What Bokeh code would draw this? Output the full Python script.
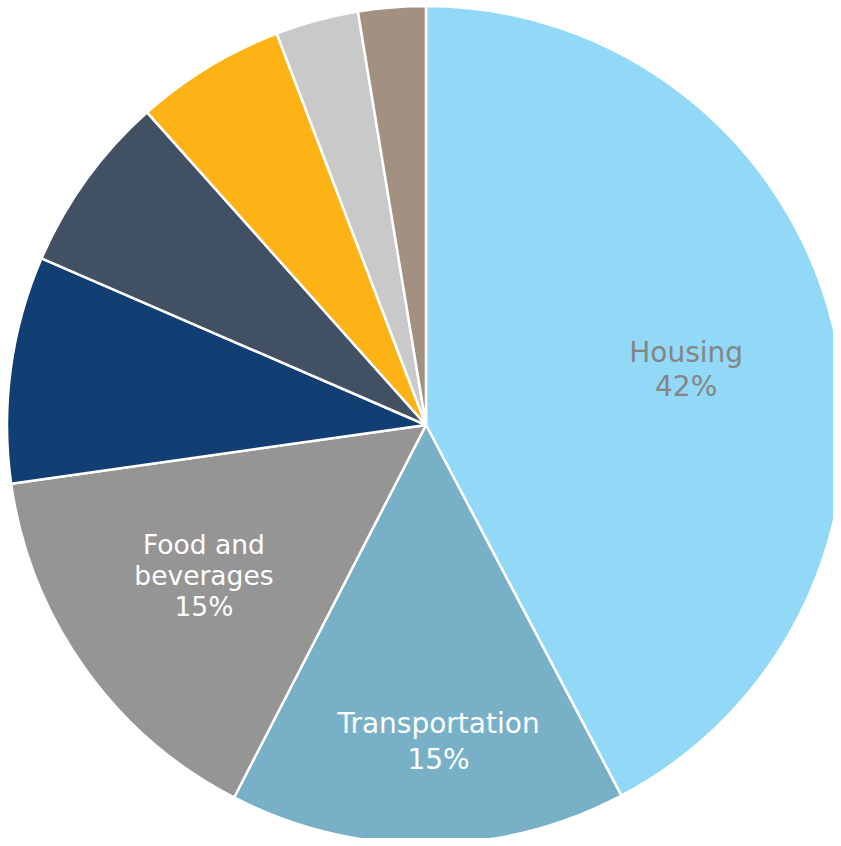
import math
from bokeh.plotting import figure
from bokeh.models import Range1d, ColumnDataSource
from bokeh.core.properties import value
from bokeh.embed import file_html
from bokeh.resources import INLINE

categories = ["Housing", "Transportation", "Food and beverages", "Medical care",
              "Education and communication", "Recreation", "Other goods and services", "Apparel"]
shares = [42.3, 15.3, 15.2, 8.75, 6.9, 5.8, 3.2, 2.6]
colors = ["#92D9F7", "#78B1C7", "#959595", "#123F73", "#415163", "#FDB316", "#C8C9C8", "#A29181"]

label_lines = {"Housing": ["Housing", "42%"],
               "Transportation": ["Transportation", "15%"],
               "Food and beverages": ["Food and", "beverages", "15%"]}
label_colors = {"Housing": "#858585", "Transportation": "white", "Food and beverages": "white"}
# label placement: radius fraction and clockwise angle adjustment (deg)
label_radius = {"Housing": 0.635, "Transportation": 0.756, "Food and beverages": 0.64}
label_dang = {"Housing": 1.8, "Transportation": -2.0, "Food and beverages": 1.3}
label_size = {"Housing": 28, "Transportation": 28, "Food and beverages": 26.5}
label_gap = {"Housing": 34, "Transportation": 36, "Food and beverages": 31}

W, H = 833, 838
p = figure(width=W, height=H, output_backend="svg", toolbar_location=None,
           x_range=Range1d(0, W), y_range=Range1d(0, H), min_border=0)
p.axis.visible = False
p.grid.visible = False
p.outline_line_color = None
p.background_fill_color = "white"

cx, cy, R = 425.5, H - 424.5, 419
total = sum(shares)
starts, ends = [], []
acc = 0.0
for s in shares:
    a0 = math.pi / 2 - 2 * math.pi * acc / total
    acc += s
    a1 = math.pi / 2 - 2 * math.pi * acc / total
    starts.append(a0)
    ends.append(a1)

src = ColumnDataSource(dict(cat=categories, start=starts, end=ends, color=colors))
p.wedge(x=cx, y=cy, radius=R, start_angle="start", end_angle="end", direction="clock",
        fill_color="color", line_color="white", line_width=2.5, source=src)

for i, c in enumerate(categories):
    if c not in label_lines:
        continue
    mid = (starts[i] + ends[i]) / 2 - math.radians(label_dang[c])
    r = label_radius[c] * R
    lx = cx + r * math.cos(mid)
    ly = cy + r * math.sin(mid)
    lines = label_lines[c]
    n = len(lines)
    g = label_gap[c]
    xs, ys = [], []
    for k, t in enumerate(lines):
        xs.append(lx)
        ys.append(ly + ((n - 1) / 2 - k) * g)
    p.text(x=xs, y=ys, text=lines, text_align="center", text_baseline="middle",
           text_font=value("DejaVu Sans"), text_font_size=f"{label_size[c]}px",
           text_color=label_colors[c])

open("out.html", "w").write(file_html(p, INLINE))
